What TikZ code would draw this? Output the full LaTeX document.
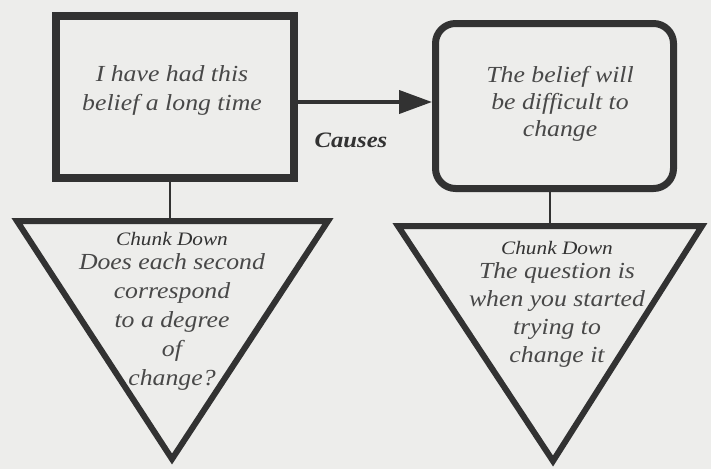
\documentclass[tikz,border=0pt]{standalone}
\usepackage{fontspec}
\setmainfont{Liberation Serif}
\newfontfamily\widefont[FakeStretch=1.12]{Liberation Serif}
\usetikzlibrary{arrows.meta}
\definecolor{bg}{RGB}{237,237,235}
\definecolor{ink}{RGB}{50,50,50}
\definecolor{txt}{RGB}{72,72,72}
\begin{document}
\begin{tikzpicture}[x=1pt,y=-1pt,
  boxsq/.style={draw=ink,line width=8pt,rectangle,inner sep=0pt},
  boxrd/.style={draw=ink,line width=7pt,rectangle,rounded corners=20pt,inner sep=0pt},
  tri/.style={draw=ink,line width=6pt,line join=miter},
  conn/.style={draw=ink,line width=2pt},
  arr/.style={draw=ink,line width=4pt,-{Triangle[length=33pt,width=23pt]}},
  maintext/.style={text=txt,align=center,font=\widefont\itshape\fontsize{23}{29}\selectfont,inner sep=0pt},
  chunktext/.style={text=ink,align=center,font=\widefont\itshape\fontsize{19}{22}\selectfont,inner sep=0pt},
  causetext/.style={text=ink,font=\widefont\bfseries\itshape\fontsize{22}{26}\selectfont,inner sep=0pt}
]
\fill[bg] (0,0) rectangle (711,469);
\useasboundingbox (0,0) rectangle (711,469);

% boxes
\node[boxsq,minimum width=238pt,minimum height=162pt] (lb) at (175,97) {};
\node[maintext] (lbt) at (172,90) {I have had this\\belief a long time};
\node[boxrd,minimum width=238pt,minimum height=165pt] (rb) at (554.5,106) {};
\node[maintext,font=\widefont\itshape\fontsize{23}{27}\selectfont] (rbt) at (560,104) {The belief will\\be difficult to\\change};

% arrow
\draw[arr] ([yshift=-5pt]lb.east) -- ([yshift=4pt]rb.west);
\node[causetext] (cause) at (351,140) {Causes};

% left triangle
\coordinate (lt1) at (17,221);
\coordinate (lt2) at (328,221);
\coordinate (lt3) at (172,459);
\coordinate (ltop) at (170,221);
\draw[tri] (lt1) -- (lt2) -- (lt3) -- cycle;
\draw[conn] (lb.south -| ltop) -- (ltop);
\node[chunktext] (lc) at (172,239) {Chunk Down};
\node[maintext] (ltt) at (172,322) {Does each second\\correspond\\to a degree\\of\\change?};

% right triangle
\coordinate (rt1) at (398,226);
\coordinate (rt2) at (702,226);
\coordinate (rt3) at (553,461);
\coordinate (rtop) at (550,226);
\draw[tri] (rt1) -- (rt2) -- (rt3) -- cycle;
\draw[conn] (rb.south -| rtop) -- (rtop);
\node[chunktext] (rc) at (557,248) {Chunk Down};
\node[maintext,font=\widefont\itshape\fontsize{23}{28}\selectfont] (rtt) at (557,315) {The question is\\when you started\\trying to\\change it};
\end{tikzpicture}
\end{document}
